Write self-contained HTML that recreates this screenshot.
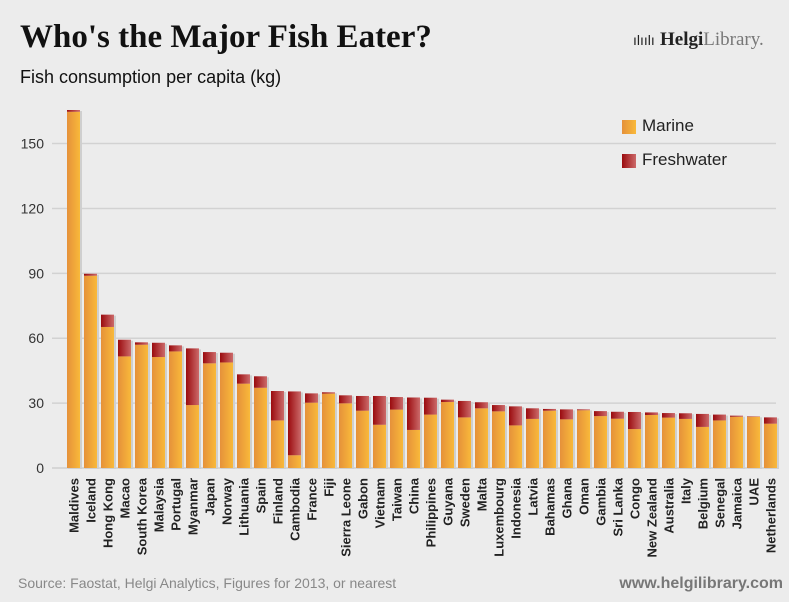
<!DOCTYPE html>
<html><head><meta charset="utf-8"><style>
body{margin:0;background:#ececec;}
#c{position:relative;width:789px;height:602px;background:#ececec;overflow:hidden;font-family:"Liberation Sans",sans-serif;}
</style></head><body>
<div id="c">
<svg id="s" width="789" height="602" xmlns="http://www.w3.org/2000/svg">
<defs>
<linearGradient id="gm" x1="0" x2="1" y1="0" y2="0"><stop offset="0" stop-color="#e5913a"/><stop offset="1" stop-color="#f9b93a"/></linearGradient>
<linearGradient id="gf" x1="0" x2="1" y1="0" y2="0"><stop offset="0" stop-color="#9a0b0e"/><stop offset="1" stop-color="#cc6a6a"/></linearGradient>
</defs>
<text x="20" y="47" font-family="Liberation Serif, serif" font-weight="bold" font-size="33" fill="#111">Who's the Major Fish Eater?</text>
<text x="20" y="83" font-size="18" fill="#111">Fish consumption per capita (kg)</text>
<g>
<text x="633" y="45" font-size="14" fill="#222">ılıılı</text>
<text x="660" y="45" font-family="Liberation Serif, serif" font-weight="bold" font-size="19" fill="#222">Helgi<tspan font-weight="normal" fill="#777">Library.</tspan></text>
</g>
<g id="grid"></g><g id="bars"></g><g id="xl"></g>
<g>
<rect x="622" y="120" width="14" height="14" fill="url(#gm)"/>
<text x="642" y="131" font-size="17" fill="#222">Marine</text>
<rect x="622" y="154" width="14" height="14" fill="url(#gf)"/>
<text x="642" y="165" font-size="17" fill="#222">Freshwater</text>
</g>
<text x="18" y="588" font-size="14" fill="#888">Source: Faostat, Helgi Analytics, Figures for 2013, or nearest</text>
<text x="783" y="588" text-anchor="end" font-size="16" font-weight="bold" fill="#777">www.helgilibrary.com</text>
</svg>
</div>
<script>
const categories=["Maldives","Iceland","Hong Kong","Macao","South Korea","Malaysia","Portugal","Myanmar","Japan","Norway","Lithuania","Spain","Finland","Cambodia","France","Fiji","Sierra Leone","Gabon","Vietnam","Taiwan","China","Philippines","Guyana","Sweden","Malta","Luxembourg","Indonesia","Latvia","Bahamas","Ghana","Oman","Gambia","Sri Lanka","Congo","New Zealand","Australia","Italy","Belgium","Senegal","Jamaica","UAE","Netherlands"];
const marine=[164.7,88.9,65.2,51.6,57.0,51.3,53.9,29.1,48.4,48.8,39.0,37.1,22.0,5.9,30.2,34.4,29.9,26.5,20.0,27.0,17.6,24.7,30.5,23.4,27.6,26.2,19.7,22.7,26.5,22.5,26.7,24.0,22.8,18.0,24.5,23.3,22.7,19.0,22.0,23.7,23.7,20.5];
const freshwater=[0.8,0.9,5.7,7.7,1.1,6.6,2.8,26.2,5.2,4.5,4.3,5.3,13.6,29.5,4.3,0.6,3.7,6.8,13.3,5.8,15.0,7.8,1.1,7.6,2.8,2.9,8.8,4.9,0.8,4.6,0.4,2.3,3.2,7.9,1.2,2.1,2.6,6.0,2.7,0.5,0.2,2.9];
const yTicks=[0,30,60,90,120,150];
const NS="http://www.w3.org/2000/svg";
const y0=468,ppu=2.163,x0=67,step=17,bw=13;
const ys=v=>y0-v*ppu, xs=i=>x0+i*step;
function mk(t,a,p){const e=document.createElementNS(NS,t);for(const k in a)e.setAttribute(k,a[k]);p.appendChild(e);return e;}
const g=document.getElementById('grid');
yTicks.forEach(t=>{
 const l=mk('line',{x1:52,x2:776,y1:ys(t),y2:ys(t),stroke:t===0?'#cfcfcf':'#d2d2d2','stroke-width':1.5},g);
 
 
 const tx=mk('text',{x:44,y:ys(t)+5,'text-anchor':'end','font-size':14,fill:'#333'},g);
 tx.textContent=t;
 
 
});
const b=document.getElementById('bars'),xl=document.getElementById('xl');
categories.forEach((c,i)=>{
 const x=xs(i),m=marine[i],f=freshwater[i];
 const sh=mk('rect',{x:x+1,y:ys(m+f)+1,width:bw+1,height:(m+f)*ppu,fill:'#cfcfcf'},b);
 
 
 const r1=mk('rect',{x:x,y:ys(m),width:bw,height:m*ppu,fill:'url(#gm)'},b);
 
 
 const r2=mk('rect',{x:x,y:ys(m+f),width:bw,height:f*ppu,fill:'url(#gf)'},b);
 
 
 const cx=x+bw/2+5;
 const t=mk('text',{x:cx,y:478,transform:`rotate(-90 ${cx} 478)`,'text-anchor':'end','font-size':13,'font-weight':'bold',fill:'#222'},xl);
 t.textContent=c;
 
 
});
</script>
</body></html>
